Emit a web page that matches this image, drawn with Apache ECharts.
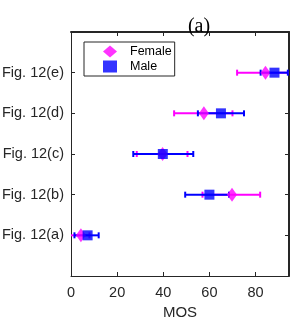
<!DOCTYPE html>
<html><head><meta charset="utf-8">
<script src="https://cdn.jsdelivr.net/npm/echarts@6/dist/echarts.min.js"></script>
<style>html,body{margin:0;padding:0;background:#fff}#c{width:291px;height:319px}</style>
</head><body><div id="c"></div>
<script>
var categories = ['Fig. 12(a)', 'Fig. 12(b)', 'Fig. 12(c)', 'Fig. 12(d)', 'Fig. 12(e)'];
var femaleMean = [4.3, 69.8, 39.7, 57.6, 84.3];
var femaleLow  = [-0.5, 57, 28.5, 44.7, 72];
var femaleHigh = [8, 82, 50.5, 70, 97];
var maleMean = [7.2, 60, 39.8, 65, 88.2];
var maleLow  = [1.5, 49.5, 27, 55, 82.2];
var maleHigh = [12, 68.5, 53, 75, 94];

function errData(lo, hi) { return lo.map(function (v, i) { return [v, hi[i], i + 1]; }); }
function ptData(m) { return m.map(function (v, i) { return [v, i + 1]; }); }
function errSeries(name, color, lo, hi) {
  return {
    type: 'custom', name: name + ' err', clip: true, silent: true,
    renderItem: function (params, api) {
      var a = api.coord([api.value(0), api.value(2)]);
      var b = api.coord([api.value(1), api.value(2)]);
      var h = 3;
      var st = { stroke: color, lineWidth: 2 };
      return { type: 'group', children: [
        { type: 'line', shape: { x1: a[0], y1: a[1], x2: b[0], y2: b[1] }, style: st },
        { type: 'line', shape: { x1: a[0], y1: a[1] - h, x2: a[0], y2: a[1] + h }, style: st },
        { type: 'line', shape: { x1: b[0], y1: b[1] - h, x2: b[0], y2: b[1] + h }, style: st }
      ]};
    },
    encode: { x: [0, 1], y: 2 },
    data: errData(lo, hi), z: 2
  };
}
function mkLine(c, w) { return { show: true, onZero: false, lineStyle: { color: c, width: w } }; }
function mkTick() { return { show: true, inside: true, length: 4, lineStyle: { color: '#262626', width: 1 } }; }
var lab = { color: '#262626', fontFamily: 'Liberation Sans, Arial', fontSize: 14.5 };
var chart = echarts.init(document.getElementById('c'));
chart.setOption({
  animation: false,
  title: { text: '(a)', left: 194, top: 12, textAlign: 'center', z: 10,
    textStyle: { fontFamily: 'Liberation Serif, Times New Roman', fontSize: 20, fontWeight: 'normal', color: '#000' } },
  grid: { left: 71, right: 2, top: 32, bottom: 43, outerBoundsMode: 'none' },
  legend: {
    orient: 'vertical', left: 84, top: 42, itemWidth: 14, itemHeight: 12, itemGap: 2,
    borderColor: '#262626', borderWidth: 1, padding: [3, 3, 3, 19],
    textStyle: { fontFamily: 'Liberation Sans, Arial', fontSize: 12.5, color: '#000', padding: [0, 0, 0, 8] },
    data: [{ name: 'Female', icon: 'diamond' }, { name: 'Male', icon: 'rect' }]
  },
  xAxis: [
    { type: 'value', min: 0, max: 94.5, interval: 20, position: 'bottom',
      name: 'MOS', nameLocation: 'middle', nameGap: 27, nameTextStyle: { color: '#262626', fontFamily: 'Liberation Sans, Arial', fontSize: 15 },
      axisLine: mkLine('#262626', 1), axisTick: mkTick(),
      axisLabel: Object.assign({ showMaxLabel: false, margin: 9 }, lab), splitLine: { show: false } },
    { type: 'value', min: 0, max: 94.5, interval: 20, position: 'top',
      axisLine: mkLine('#262626', 2), axisTick: mkTick(),
      axisLabel: { show: true, color: 'rgba(0,0,0,0)', showMaxLabel: false }, splitLine: { show: false } }
  ],
  yAxis: [
    { type: 'value', min: 0, max: 6, interval: 1, position: 'left',
      axisLine: mkLine('#262626', 1), axisTick: mkTick(),
      axisLabel: Object.assign({ margin: 7, formatter: function (v) { return categories[v - 1] || ''; } }, lab),
      splitLine: { show: false } },
    { type: 'value', min: 0, max: 6, interval: 1, position: 'right',
      axisLine: mkLine('#262626', 2), axisTick: mkTick(),
      axisLabel: { show: true, color: 'rgba(0,0,0,0)' }, splitLine: { show: false } }
  ],
  series: [
    errSeries('Female', '#ff00ff', femaleLow, femaleHigh),
    { type: 'scatter', name: 'Female', symbol: 'diamond', symbolSize: [10, 14],
      itemStyle: { color: '#ff00ff' }, data: ptData(femaleMean), z: 3 },
    errSeries('Male', '#0000ff', maleLow, maleHigh),
    { type: 'scatter', name: 'Male', symbol: 'rect', symbolSize: 10,
      itemStyle: { color: '#0000ff' }, data: ptData(maleMean), z: 5 }
  ]
});
</script></body></html>
